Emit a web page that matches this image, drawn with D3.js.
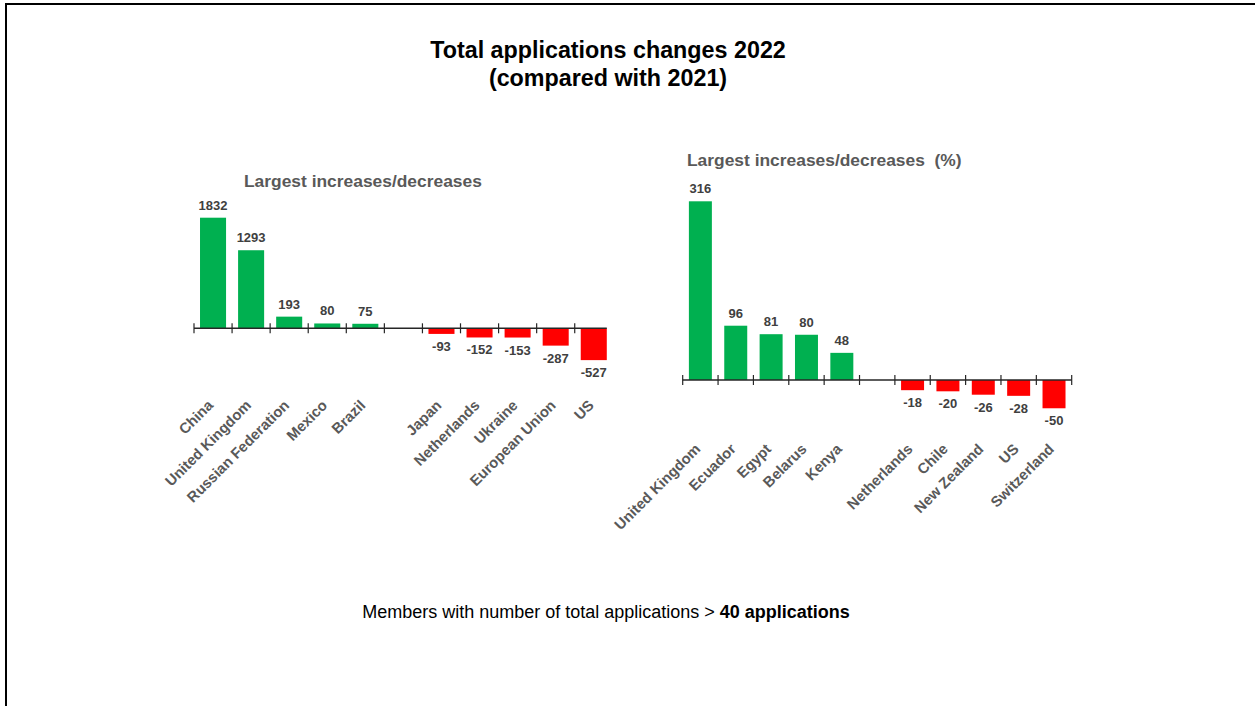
<!DOCTYPE html>
<html>
<head>
<meta charset="utf-8">
<script src="https://cdn.jsdelivr.net/npm/d3@7"></script>
<style>
  html, body { margin: 0; padding: 0; background: #fff; }
  svg { display: block; font-family: "Liberation Sans", Arial, sans-serif; }
</style>
</head>
<body>
<svg id="chart" width="1255" height="706"></svg>
<script>
// ---- Data ----
const titleLines = ["Total applications changes 2022", "(compared with 2021)"];
const leftTitle = "Largest increases/decreases";
const rightTitle = "Largest increases/decreases\u00a0 (%)";

const leftCategories = ["China", "United Kingdom", "Russian Federation", "Mexico", "Brazil", "", "Japan", "Netherlands", "Ukraine", "European Union", "US"];
const leftValues = [1832, 1293, 193, 80, 75, null, -93, -152, -153, -287, -527];

const rightCategories = ["United Kingdom", "Ecuador", "Egypt", "Belarus", "Kenya", "", "Netherlands", "Chile", "New Zealand", "US", "Switzerland"];
const rightValues = [316, 96, 81, 80, 48, null, -18, -20, -26, -28, -50];

const footRegular = "Members with number of total applications > ";
const footBold = "40 applications";

// ---- Styles ----
const GREEN = "#00B050", RED = "#FF0000";
const svg = d3.select("#chart");

// border (top and left)
svg.append("line").attr("x1", 6).attr("y1", 4).attr("x2", 1255).attr("y2", 4)
  .attr("stroke", "#000").attr("stroke-width", 2);
svg.append("line").attr("x1", 6).attr("y1", 3).attr("x2", 6).attr("y2", 706)
  .attr("stroke", "#000").attr("stroke-width", 2);

// main title
svg.append("g").selectAll("text").data(titleLines).join("text")
  .attr("x", 608).attr("y", (d, i) => 58 + i * 28)
  .attr("text-anchor", "middle").attr("font-size", 23.3).attr("font-weight", "bold")
  .attr("fill", "#000").text(d => d);

function drawPanel(cfg) {
  const g = svg.append("g");
  const idx = cfg.cats.map((d, i) => i);
  const x = d3.scaleBand().domain(idx).range(cfg.xRange)
    .paddingInner(cfg.pad).paddingOuter(cfg.pad / 2);
  const y = d3.scaleLinear().domain([0, cfg.maxVal]).range([cfg.zeroY, cfg.maxY]);
  const data = idx.map(i => ({ i, cat: cfg.cats[i], v: cfg.vals[i] }));

  // subtitle
  g.append("text").attr("x", cfg.titleX).attr("y", cfg.titleY)
    .attr("font-size", 17.4).attr("font-weight", "bold").attr("fill", "#595959")
    .text(cfg.title);

  // bars
  g.selectAll("rect").data(data.filter(d => d.v != null)).join("rect")
    .attr("x", d => x(d.i))
    .attr("width", x.bandwidth())
    .attr("y", d => Math.min(y(d.v), y(0)))
    .attr("height", d => Math.abs(y(d.v) - y(0)))
    .attr("fill", d => d.v >= 0 ? GREEN : RED);

  // axis line + ticks
  const x0 = cfg.xRange[0];
  const axisEnd = cfg.axisToBarEnd ? x(idx.length - 1) + x.bandwidth() : cfg.xRange[1];
  g.append("line").attr("x1", x0).attr("x2", axisEnd)
    .attr("y1", y(0)).attr("y2", y(0)).attr("stroke", "#262626").attr("stroke-width", 1.5);
  const tickXs = d3.range(cfg.nTicks).map(k => x0 + k * x.step());
  g.selectAll("line.tick").data(tickXs).join("line").attr("class", "tick")
    .attr("x1", d => d).attr("x2", d => d)
    .attr("y1", y(0) - 5).attr("y2", y(0) + 5)
    .attr("stroke", "#262626").attr("stroke-width", 1.2);

  // value labels
  g.selectAll("text.val").data(data.filter(d => d.v != null)).join("text").attr("class", "val")
    .attr("x", d => x(d.i) + x.bandwidth() / 2)
    .attr("y", d => d.v >= 0 ? y(d.v) - 8 : y(d.v) + 17)
    .attr("text-anchor", "middle").attr("font-size", 13).attr("font-weight", "bold")
    .attr("fill", "#404040").text(d => d.v);

  // category labels
  g.selectAll("text.cat").data(data.filter(d => d.cat !== "")).join("text").attr("class", "cat")
    .attr("transform", d => `translate(${x(d.i) + x.bandwidth() / 2 + 1},${y(0) + cfg.labelOffset}) rotate(-45)`)
    .attr("text-anchor", "end").attr("font-size", 14.8).attr("font-weight", "bold")
    .attr("fill", "#595959").text(d => d.cat);
}

drawPanel({
  cats: leftCategories, vals: leftValues, title: leftTitle,
  xRange: [194, 612.8], pad: 0.316, zeroY: 328.3, maxVal: 1832, maxY: 217.7,
  titleX: 244, titleY: 187, nTicks: 11, axisToBarEnd: true, labelOffset: 78
});

drawPanel({
  cats: rightCategories, vals: rightValues, title: rightTitle,
  xRange: [682.7, 1071.7], pad: 0.35, zeroY: 380, maxVal: 316, maxY: 201.3,
  titleX: 687, titleY: 166, nTicks: 12, axisToBarEnd: false, labelOffset: 70
});

// footnote
const foot = svg.append("text").attr("x", 606).attr("y", 618)
  .attr("text-anchor", "middle").attr("font-size", 18).attr("fill", "#000");
foot.append("tspan").text(footRegular);
foot.append("tspan").attr("font-weight", "bold").text(footBold);
</script>
</body>
</html>
